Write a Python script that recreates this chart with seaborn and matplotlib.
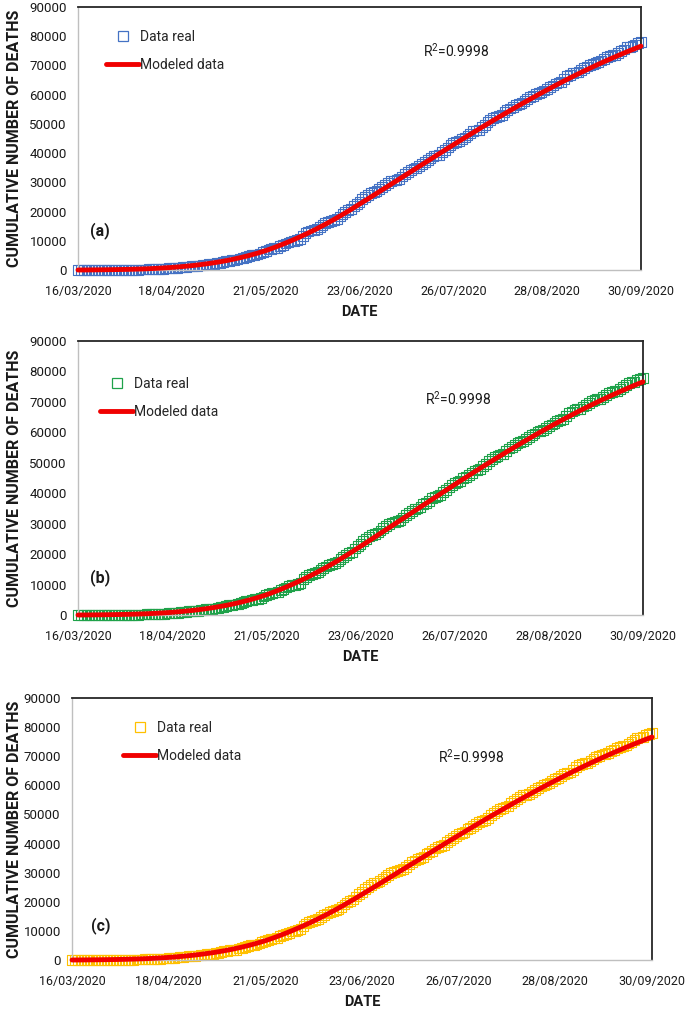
import numpy as np
import pandas as pd
import matplotlib
matplotlib.use("Agg")
import matplotlib.pyplot as plt
from matplotlib.lines import Line2D
import seaborn as sns

# ── Data ─────────────────────────────────────────────────────────────────────
# daily cumulative deaths, 16/03/2020 → 30/09/2020
real_dates = pd.date_range("2020-03-16", "2020-09-30", freq="D")
real_deaths = [
    # March 16-31
    0, 0, 1, 1, 2, 2, 3, 4, 5, 6, 8, 12, 16, 20, 28, 29,
    # April
    37, 50, 60, 79, 94, 125, 141, 174, 194, 233, 273, 296, 332, 406, 449,
    486, 546, 650, 686, 712, 857, 970, 1069, 1221, 1305, 1351, 1434, 1569,
    1732, 1859,
    # May
    1972, 2061, 2154, 2271, 2507, 2704, 2961, 3160, 3353, 3465, 3573, 3926,
    4220, 4477, 4767, 5045, 5177, 5332, 5666, 6090, 6510, 6989, 7179, 7394,
    7633, 8134, 8597, 9044, 9415, 9779, 9930,
    # June
    10167, 10637, 11729, 12545, 13170, 13511, 13699, 14053, 14649, 15357,
    15944, 16448, 16872, 17141, 17580, 18310, 19080, 19747, 20394, 20781,
    21825, 22584, 23377, 24324, 25060, 25779, 26381, 26648, 27121, 27769,
    # July
    28510, 29189, 29843, 30366, 30639, 30894, 31119, 32014, 32796, 33526,
    34191, 34730, 35006, 35491, 36327, 36906, 37574, 38310, 38888, 39184,
    39485, 40400, 41190, 41908, 42645, 43374, 43680, 44022, 44876, 45361,
    46000,
    # August
    46688, 47472, 47746, 48012, 48869, 49698, 50517, 51311, 52006, 52298,
    52730, 53003, 53929, 54666, 55293, 55908, 56543, 56757, 57023, 57774,
    58481, 59106, 59610, 60254, 60480, 60800, 61450, 62076, 62594, 63146,
    63819,
    # September
    64158, 64414, 65241, 66329, 66851, 67326, 67558, 67781, 68484, 69049,
    69649, 70183, 70604, 70821, 71049, 71678, 72179, 72803, 73258, 73493,
    73697, 74348, 74949, 75439, 76243, 76430, 76603, 77163, 77646, 77900,
]

# fitted curve, one value every 3 days
model_dates = pd.date_range("2020-03-16", "2020-09-30", freq="3D")
modeled_deaths = [
    0, 20, 50, 80, 120, 170, 230, 310, 410, 540, 700, 890, 1120, 1390, 1710,
    2080, 2510, 3000, 3560, 4200, 4920, 5730, 6630, 7680, 8810, 10020, 11310,
    12680, 14130, 15660, 17270, 18960, 20720, 22540, 24370, 26210, 28055,
    29905, 31755, 33605, 35455, 37305, 39155, 41000, 42830, 44650, 46450,
    48230, 49990, 51730, 53450, 55150, 56820, 58460, 60070, 61650, 63200,
    64720, 66200, 67640, 69040, 70400, 71720, 73000, 74240, 75440, 76600,
]

tick_dates = ["16/03/2020", "18/04/2020", "21/05/2020", "23/06/2020",
              "26/07/2020", "28/08/2020", "30/09/2020"]
y_ticks = [0, 10000, 20000, 30000, 40000, 50000, 60000, 70000, 80000, 90000]

panel_tags = ["(a)", "(b)", "(c)"]
marker_colors = ["#4472C4", "#1FA24A", "#FFC000"]
r2_text = "R$^2$=0.9998"

real_df = pd.DataFrame({"date": real_dates, "deaths": real_deaths})
model_df = pd.DataFrame({"date": model_dates, "deaths": modeled_deaths})

# ── Layout (pixel boxes: left, top, right, bottom) ───────────────────────────
W, H = 685, 1009
boxes = [(78, 7, 641, 270), (78, 341, 643, 615), (72, 698, 652, 960)]
legend_xy = [(106, 30), (100, 377), (123, 721)]
r2_xy = [(423, 51), (425, 399), (438, 757)]
tag_xy = [(100, 231), (100, 578), (101, 926)]

FONT = ["Roboto", "DejaVu Sans"]
TXT = "#1A1A1A"

sns.set_style("white")
plt.rcParams["font.family"] = FONT
plt.rcParams["mathtext.fontset"] = "custom"
plt.rcParams["mathtext.rm"] = "Roboto"

fig = plt.figure(figsize=(W / 100, H / 100), dpi=100)


def px(x, y):
    return x / W, 1 - y / H


def draw_panel(i):
    l, t, r, b = boxes[i]
    ax = fig.add_axes([l / W, 1 - b / H, (r - l) / W, (b - t) / H])
    color = marker_colors[i]

    sns.scatterplot(data=real_df, x="date", y="deaths", ax=ax, marker="s",
                    s=50, facecolor="none", edgecolor=color, linewidth=0.8,
                    clip_on=False, zorder=2, legend=False)
    sns.lineplot(data=model_df, x="date", y="deaths", ax=ax, color="#F00000",
                 linewidth=3.5, zorder=3, clip_on=False, legend=False)

    tick_pos = pd.to_datetime(tick_dates, format="%d/%m/%Y")
    ax.set_xlim(tick_pos[0], tick_pos[-1])
    ax.set_xticks(tick_pos)
    ax.set_xticklabels(tick_dates)
    ax.set_ylim(0, 90000)
    ax.set_yticks(y_ticks)
    ax.set_yticklabels([str(v) for v in y_ticks])
    ax.set_xlabel("")
    ax.set_ylabel("")

    for side in ["left", "bottom"]:
        ax.spines[side].set_color("#BFBFBF")
        ax.spines[side].set_linewidth(1.0)
    for side in ["top", "right"]:
        ax.spines[side].set_color("#262626")
        ax.spines[side].set_linewidth(1.3)
    ax.tick_params(axis="both", which="major", length=5, width=0.9,
                   color="#BFBFBF", labelsize=9.5, labelcolor=TXT,
                   direction="out", pad=3)
    ax.tick_params(axis="x", pad=6, labelsize=9)

    # axis titles
    cx = (l + r) / 2
    fig.text(*px(cx, b + 42), "DATE", ha="center", va="center",
             fontsize=10.5, fontweight="bold", color=TXT)
    fig.text(*px(15, (t + b) / 2), "CUMULATIVE NUMBER OF DEATHS",
             rotation=90, ha="center", va="center", fontsize=11.5,
             fontweight="bold", color=TXT)

    # legend
    handles = [
        Line2D([], [], linestyle="none", marker="s", markersize=7.5,
               markerfacecolor="none", markeredgecolor=color,
               markeredgewidth=0.9),
        Line2D([], [], color="#F00000", linewidth=3.5),
    ]
    ax.legend(handles, ["Data real", "Modeled data"], loc="upper left",
              bbox_to_anchor=px(*legend_xy[i]), bbox_transform=fig.transFigure,
              frameon=False, fontsize=10, handlelength=2.4, handletextpad=0.05,
              labelspacing=1.0, borderpad=0, borderaxespad=0)

    fig.text(*px(*r2_xy[i]), r2_text, ha="left", va="center", fontsize=10,
             color=TXT)
    fig.text(*px(*tag_xy[i]), panel_tags[i], ha="center", va="center",
             fontsize=11.5, fontweight="bold", color=TXT)


for i in range(3):
    draw_panel(i)

fig.savefig("out.png", dpi=100)
